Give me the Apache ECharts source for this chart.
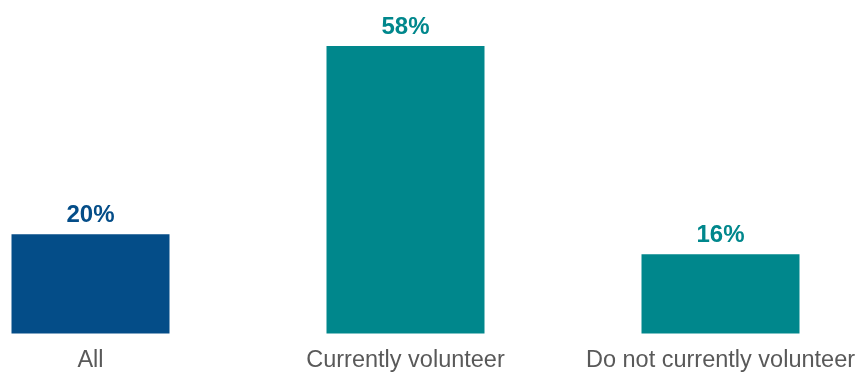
<!DOCTYPE html>
<html>
<head>
<meta charset="utf-8">
<script src="https://cdn.jsdelivr.net/npm/echarts@6/dist/echarts.min.js"></script>
<style>html,body{margin:0;padding:0;background:#fff;}#chart{width:861px;height:373px;}</style>
</head>
<body>
<div id="chart"></div>
<script>
const categories = ['All', 'Currently volunteer', 'Do not currently volunteer'];
const values = [20, 58, 16];
const barColors = ['#044d88', '#00878c', '#00878c'];

const chart = echarts.init(document.getElementById('chart'), null, {renderer: 'canvas'});
chart.setOption({
  animation: false,
  backgroundColor: '#ffffff',
  grid: {left: -67, width: 945, top: 36, bottom: 39.5, containLabel: false, outerBoundsMode: 'none'},
  xAxis: {
    type: 'category',
    data: categories,
    axisLine: {show: false},
    axisTick: {show: false},
    axisLabel: {
      interval: 0,
      margin: 15,
      color: '#595959',
      fontFamily: 'Liberation Sans, Arial, sans-serif',
      fontSize: 23.5
    }
  },
  yAxis: {
    type: 'value',
    min: 0,
    max: 60,
    show: false,
    splitLine: {show: false}
  },
  series: [{
    type: 'bar',
    barWidth: 158,
    data: values.map((v, i) => ({value: v, itemStyle: {color: barColors[i]}, label: {color: barColors[i]}})),
    label: {
      show: true,
      position: 'top',
      distance: 7,
      formatter: '{c}%',
      fontFamily: 'Liberation Sans, Arial, sans-serif',
      fontWeight: 'bold',
      fontSize: 24
    }
  }]
});
</script>
</body>
</html>
